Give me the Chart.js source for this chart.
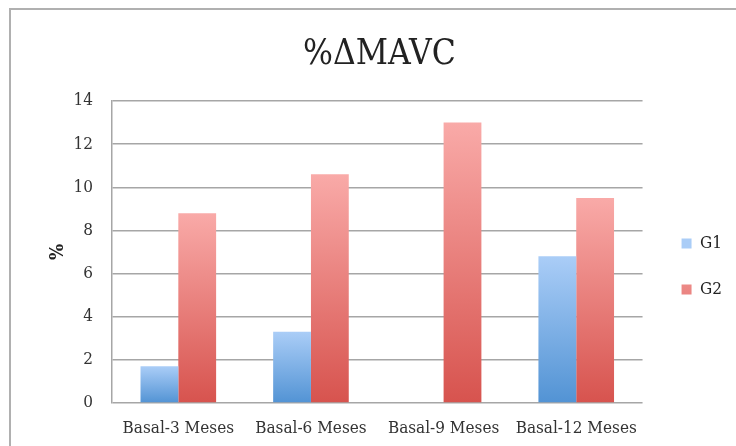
<!DOCTYPE html>
<html>
<head>
<meta charset="utf-8">
<script src="https://cdn.jsdelivr.net/npm/chart.js@4/dist/chart.umd.min.js"></script>
<style>
  html, body { margin: 0; padding: 0; background: #fff; overflow: hidden; }
  #wrap { position: relative; width: 736px; height: 446px; }
  #frame { position: absolute; left: 9px; top: 8px; width: 760px; height: 480px;
           border: 2px solid #b0b0b0; box-sizing: border-box; pointer-events: none; }
  canvas { position: absolute; left: 0; top: 0; }
</style>
</head>
<body>
<div id="wrap">
  <div id="frame"></div>
  <canvas id="c" width="736" height="446"></canvas>
</div>
<script>
// Periods compared against baseline
const categories = ['Basal-3 Meses', 'Basal-6 Meses', 'Basal-9 Meses', 'Basal-12 Meses'];
// Percent change in MAVC per group (G1 has no 9-month value)
const g1Values = [1.7, 3.3, null, 6.8];
const g2Values = [8.8, 10.6, 13.0, 9.5];
const yTicks = [0, 2, 4, 6, 8, 10, 12, 14];

const FONT = "'DejaVu Serif Condensed', 'Liberation Serif', serif";

// Vertical gradient spanning each bar from its top down to zero
function barGradient(top, bottom, solid) {
  return (ctx) => {
    const chart = ctx.chart;
    if (ctx.type !== 'data' || !chart.chartArea || ctx.parsed == null) return solid;
    const ys = chart.scales.y;
    const y0 = ys.getPixelForValue(ctx.parsed.y);
    const y1 = ys.getPixelForValue(0);
    if (!isFinite(y0) || !isFinite(y1) || y0 === y1) return solid;
    const g = chart.ctx.createLinearGradient(0, y0, 0, y1);
    g.addColorStop(0, top);
    g.addColorStop(1, bottom);
    return g;
  };
}

new Chart(document.getElementById('c'), {
  type: 'bar',
  data: {
    labels: categories,
    datasets: [
      { label: 'G1', data: g1Values,
        backgroundColor: barGradient('#aacdf7', '#5293d4', '#6aa6e2') },
      { label: 'G2', data: g2Values,
        backgroundColor: barGradient('#f9aaa8', '#d7534e', '#e46f6b') }
    ]
  },
  options: {
    responsive: false,
    animation: false,
    layout: { padding: { left: 27, right: 4, top: 10, bottom: 8 } },
    datasets: { bar: { barPercentage: 1.0, categoryPercentage: 0.57 } },
    plugins: {
      title: {
        display: true,
        text: '%ΔMAVC',
        color: '#222',
        font: { family: FONT, size: 35, weight: 'normal' },
        padding: { top: 24, bottom: 25 }
      },
      legend: {
        position: 'right',
        align: 'start',
        title: { display: true, text: ' ', font: { size: 10 }, padding: { top: 184, bottom: 0 } },
        labels: {
          boxWidth: 10, boxHeight: 10,
          padding: 29,
          color: '#222',
          font: { family: FONT, size: 17 }
        }
      },
      tooltip: { enabled: false }
    },
    scales: {
      x: {
        afterFit: (s) => { s.height = 35; },
        grid: { display: false, drawTicks: false },
        border: { display: false },
        ticks: { color: '#333', padding: 15, font: { family: FONT, size: 17 } }
      },
      y: {
        min: 0, max: 14,
        afterBuildTicks: (s) => { s.ticks = yTicks.map(v => ({ value: v })); },
        afterFit: (s) => { s.width = 85; },
        grid: { color: '#a6a6a6', lineWidth: 1.5, drawTicks: false },
        border: { display: true, color: '#a6a6a6', width: 1.5 },
        ticks: { color: '#333', padding: 19, font: { family: FONT, size: 17 } },
        title: {
          display: true, text: '%', color: '#222',
          font: { family: FONT, size: 19, weight: 'bold' },
          padding: { top: 20 }
        }
      },
      // empty gutter between the plot and the legend
      gutter: {
        type: 'linear', position: 'right',
        afterFit: (s) => { s.width = 10; },
        grid: { display: false, drawTicks: false },
        border: { display: false },
        ticks: { display: false }
      }
    }
  }
});
</script>
</body>
</html>
